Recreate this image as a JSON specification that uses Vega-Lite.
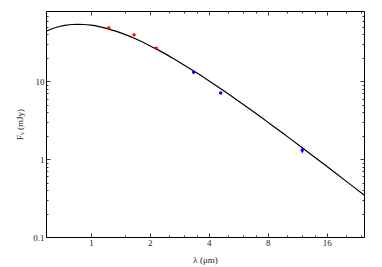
{
  "$schema": "https://vega.github.io/schema/vega-lite/v6.json",
  "width": 318,
  "height": 226,
  "autosize": "none",
  "padding": {"left": 46, "top": 11, "right": 18, "bottom": 30},
  "config": {
    "view": {"stroke": "black", "strokeWidth": 1},
    "axis": {
      "labelFont": "Liberation Serif",
      "titleFont": "Liberation Serif",
      "labelFontSize": 9,
      "titleFontSize": 9,
      "titleFontWeight": "normal",
      "labelColor": "#222",
      "titleColor": "#222",
      "domain": false,
      "grid": false,
      "tickColor": "black",
      "tickWidth": 0.8,
      "labelOverlap": false,
      "labelFlush": false
    }
  },
  "datasets": {
    "curve": [
      {"lam": 0.59, "f": 44.0},
      {"lam": 0.65, "f": 48.4},
      {"lam": 0.70, "f": 51.0},
      {"lam": 0.75, "f": 52.7},
      {"lam": 0.80, "f": 53.7},
      {"lam": 0.86, "f": 54.0},
      {"lam": 0.92, "f": 53.7},
      {"lam": 1.0, "f": 52.6},
      {"lam": 1.1, "f": 50.5},
      {"lam": 1.2, "f": 47.9},
      {"lam": 1.35, "f": 43.8},
      {"lam": 1.5, "f": 39.8},
      {"lam": 1.7, "f": 34.9},
      {"lam": 1.9, "f": 30.6},
      {"lam": 2.1, "f": 26.9},
      {"lam": 2.4, "f": 22.5},
      {"lam": 2.7, "f": 18.9},
      {"lam": 3.0, "f": 16.1},
      {"lam": 3.5, "f": 12.65},
      {"lam": 4.0, "f": 10.17},
      {"lam": 4.5, "f": 8.33},
      {"lam": 5.0, "f": 6.95},
      {"lam": 6.0, "f": 5.04},
      {"lam": 7.0, "f": 3.82},
      {"lam": 8.0, "f": 2.99},
      {"lam": 9.0, "f": 2.41},
      {"lam": 10.0, "f": 1.976},
      {"lam": 12.0, "f": 1.40},
      {"lam": 14.0, "f": 1.045},
      {"lam": 16.0, "f": 0.809},
      {"lam": 18.0, "f": 0.645},
      {"lam": 20.0, "f": 0.526},
      {"lam": 22.0, "f": 0.437},
      {"lam": 24.8, "f": 0.346}
    ],
    "obs": [
      {"lam": 1.235, "f": 48.5, "lo": 47.5, "hi": 49.5, "band": "2MASS"},
      {"lam": 1.662, "f": 39.5, "lo": 38.8, "hi": 40.2, "band": "2MASS"},
      {"lam": 2.159, "f": 26.5, "lo": 26.0, "hi": 27.0, "band": "2MASS"},
      {"lam": 3.35, "f": 13.1, "lo": 12.8, "hi": 13.4, "band": "WISE"},
      {"lam": 4.6, "f": 7.1, "lo": 6.95, "hi": 7.25, "band": "WISE"},
      {"lam": 12.0, "f": 1.3, "lo": 1.19, "hi": 1.42, "band": "WISE"}
    ]
  },
  "layer": [
    {
      "data": {"name": "curve"},
      "mark": {"type": "line", "color": "black", "strokeWidth": 1.2, "interpolate": "monotone"},
      "encoding": {
        "x": {
          "field": "lam", "type": "quantitative",
          "scale": {"type": "log", "domain": [0.59, 24.8], "nice": false, "zero": false},
          "axis": {
            "orient": "bottom",
            "title": "λ (μm)",
            "titlePadding": 6,
            "values": [1, 1.5, 2, 2.5, 3, 3.5, 4, 5, 6, 7, 8, 10, 12, 14, 16, 20, 24],
            "tickSize": {"condition": {"test": "indexof([1,2,4,8,16], datum.value) >= 0", "value": -4}, "value": -2},
            "labelExpr": "indexof([1,2,4,8,16], datum.value) >= 0 ? '' + datum.value : ''",
            "labelPadding": 5
          }
        },
        "y": {
          "field": "f", "type": "quantitative",
          "scale": {"type": "log", "domain": [0.1, 80], "nice": false, "zero": false},
          "axis": {
            "orient": "left",
            "title": "Fᵥ (mJy)",
            "titlePadding": 8,
            "values": [0.1, 0.2, 0.3, 0.4, 0.5, 0.6, 0.7, 0.8, 0.9, 1, 2, 3, 4, 5, 6, 7, 8, 9, 10, 20, 30, 40, 50, 60, 70],
            "tickSize": {"condition": {"test": "indexof([0.1,1,10], datum.value) >= 0", "value": -4}, "value": -2},
            "labelExpr": "indexof([0.1,1,10], datum.value) >= 0 ? '' + datum.value : ''",
            "labelPadding": 6
          }
        }
      }
    },
    {
      "data": {"name": "obs"},
      "mark": {"type": "rule", "strokeWidth": 1},
      "encoding": {
        "x": {"field": "lam", "type": "quantitative",
          "axis": {
            "orient": "top", "title": null, "labels": false,
            "values": [1, 1.5, 2, 2.5, 3, 3.5, 4, 5, 6, 7, 8, 10, 12, 14, 16, 20, 24],
            "tickSize": {"condition": {"test": "indexof([1,2,4,8,16], datum.value) >= 0", "value": -4}, "value": -2}
          }},
        "y": {"field": "lo", "type": "quantitative",
          "axis": {
            "orient": "right", "title": null, "labels": false,
            "values": [0.1, 0.2, 0.3, 0.4, 0.5, 0.6, 0.7, 0.8, 0.9, 1, 2, 3, 4, 5, 6, 7, 8, 9, 10, 20, 30, 40, 50, 60, 70],
            "tickSize": {"condition": {"test": "indexof([0.1,1,10], datum.value) >= 0", "value": -4}, "value": -2}
          }},
        "y2": {"field": "hi"},
        "color": {"field": "band", "type": "nominal", "scale": {"domain": ["2MASS", "WISE"], "range": ["#ff0000", "#0000ff"]}, "legend": null}
      }
    },
    {
      "data": {"name": "obs"},
      "mark": {"type": "circle", "size": 12, "opacity": 1},
      "encoding": {
        "x": {"field": "lam", "type": "quantitative", "axis": null},
        "y": {"field": "f", "type": "quantitative", "axis": null},
        "color": {"field": "band", "type": "nominal", "scale": {"domain": ["2MASS", "WISE"], "range": ["#ff0000", "#0000ff"]}, "legend": null}
      }
    }
  ],
  "resolve": {"axis": {"x": "independent", "y": "independent"}}
}
